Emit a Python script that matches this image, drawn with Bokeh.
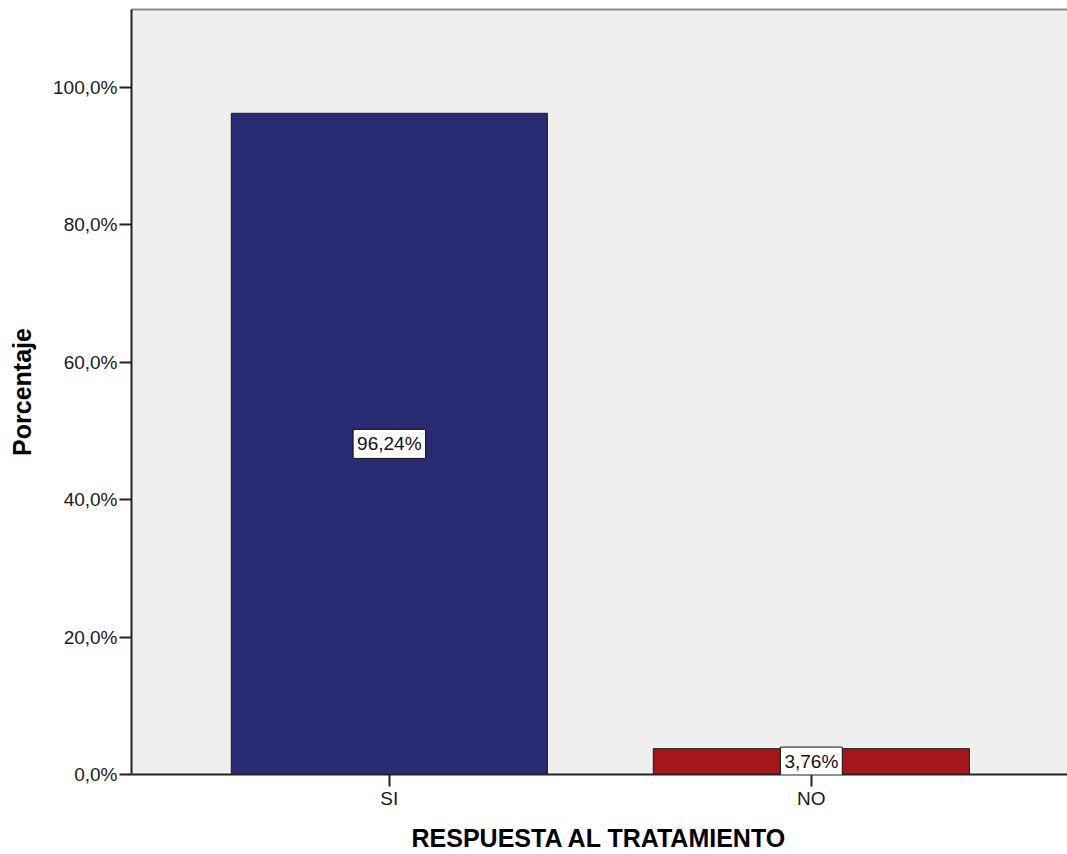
from bokeh.plotting import figure
from bokeh.models import (ColumnDataSource, FixedTicker, Label, LinearAxis, Range1d)
from bokeh.embed import file_html
from bokeh.resources import INLINE

# ---- data ----
categories = ["SI", "NO"]
percentages = [96.24, 3.76]
value_labels = ["96,24%", "3,76%"]
bar_colors = ["#282a72", "#a3161a"]
y_ticks = [0, 20, 40, 60, 80, 100]
y_tick_labels = ["0,0%", "20,0%", "40,0%", "60,0%", "80,0%", "100,0%"]
x_title = "RESPUESTA AL TRATAMIENTO"
y_title = "Porcentaje"

positions = list(range(1, len(categories) + 1))
src = ColumnDataSource(dict(
    x=positions,
    top=percentages,
    color=bar_colors,
))

FONT = "Liberation Sans"

p = figure(width=1067, height=854, output_backend="svg", toolbar_location=None,
           x_range=Range1d(0.389, 2.607), y_range=Range1d(0, 111.35),
           min_border_left=131, min_border_right=0, min_border_top=9,
           min_border_bottom=80, x_axis_location="below", y_axis_location="left")

p.background_fill_color = "#efefef"
p.border_fill_color = "white"
p.outline_line_color = None
p.grid.visible = False

p.vbar(x="x", top="top", bottom=0, width=0.749, source=src,
       fill_color="color", line_color="#1a1a1a", line_width=1)

for xpos, val, txt in zip(positions, percentages, value_labels):
    p.add_layout(Label(x=xpos, y=val / 2, text=txt,
                       text_align="center", text_baseline="middle",
                       text_font=FONT, text_font_size="19px", text_color="#111111",
                       background_fill_color="white", border_line_color="#111111",
                       border_line_width=1, padding=4))

# Y axis
ya = p.yaxis[0]
ya.ticker = FixedTicker(ticks=y_ticks)
ya.major_label_overrides = {t: l for t, l in zip(y_ticks, y_tick_labels)}
ya.minor_tick_line_color = None
ya.major_tick_out = 12
ya.major_tick_in = 0
ya.major_label_standoff = 2
ya.major_label_text_font = FONT
ya.major_label_text_font_size = "19px"
ya.major_label_text_color = "#1a1a1a"
ya.axis_line_color = "#222222"
ya.axis_line_width = 2
ya.major_tick_line_color = "#222222"
ya.major_tick_line_width = 2
ya.axis_label = y_title
ya.axis_label_text_font = FONT
ya.axis_label_text_font_style = "bold"
ya.axis_label_text_font_size = "25px"
ya.axis_label_text_color = "black"
ya.axis_label_standoff = 14

# X axis
xa = p.xaxis[0]
xa.ticker = FixedTicker(ticks=positions)
xa.major_label_overrides = {pos: c for pos, c in zip(positions, categories)}
xa.minor_tick_line_color = None
xa.major_tick_out = 12
xa.major_tick_in = 0
xa.major_label_standoff = 1
xa.major_label_text_font = FONT
xa.major_label_text_font_size = "19px"
xa.major_label_text_color = "#1a1a1a"
xa.axis_line_color = "#222222"
xa.axis_line_width = 2
xa.major_tick_line_color = "#222222"
xa.major_tick_line_width = 2
xa.axis_label = x_title
xa.axis_label_text_font = FONT
xa.axis_label_text_font_style = "bold"
xa.axis_label_text_font_size = "25px"
xa.axis_label_text_color = "black"
xa.axis_label_standoff = 12

# top frame line
top = LinearAxis(ticker=FixedTicker(ticks=[]), major_tick_out=0, major_tick_in=0,
                 major_label_standoff=0, major_label_text_font_size="0px",
                 minor_tick_line_color=None, axis_line_color="#8c8c8c",
                 axis_line_width=2)
p.add_layout(top, "above")

open("out.html", "w").write(file_html(p, INLINE))
